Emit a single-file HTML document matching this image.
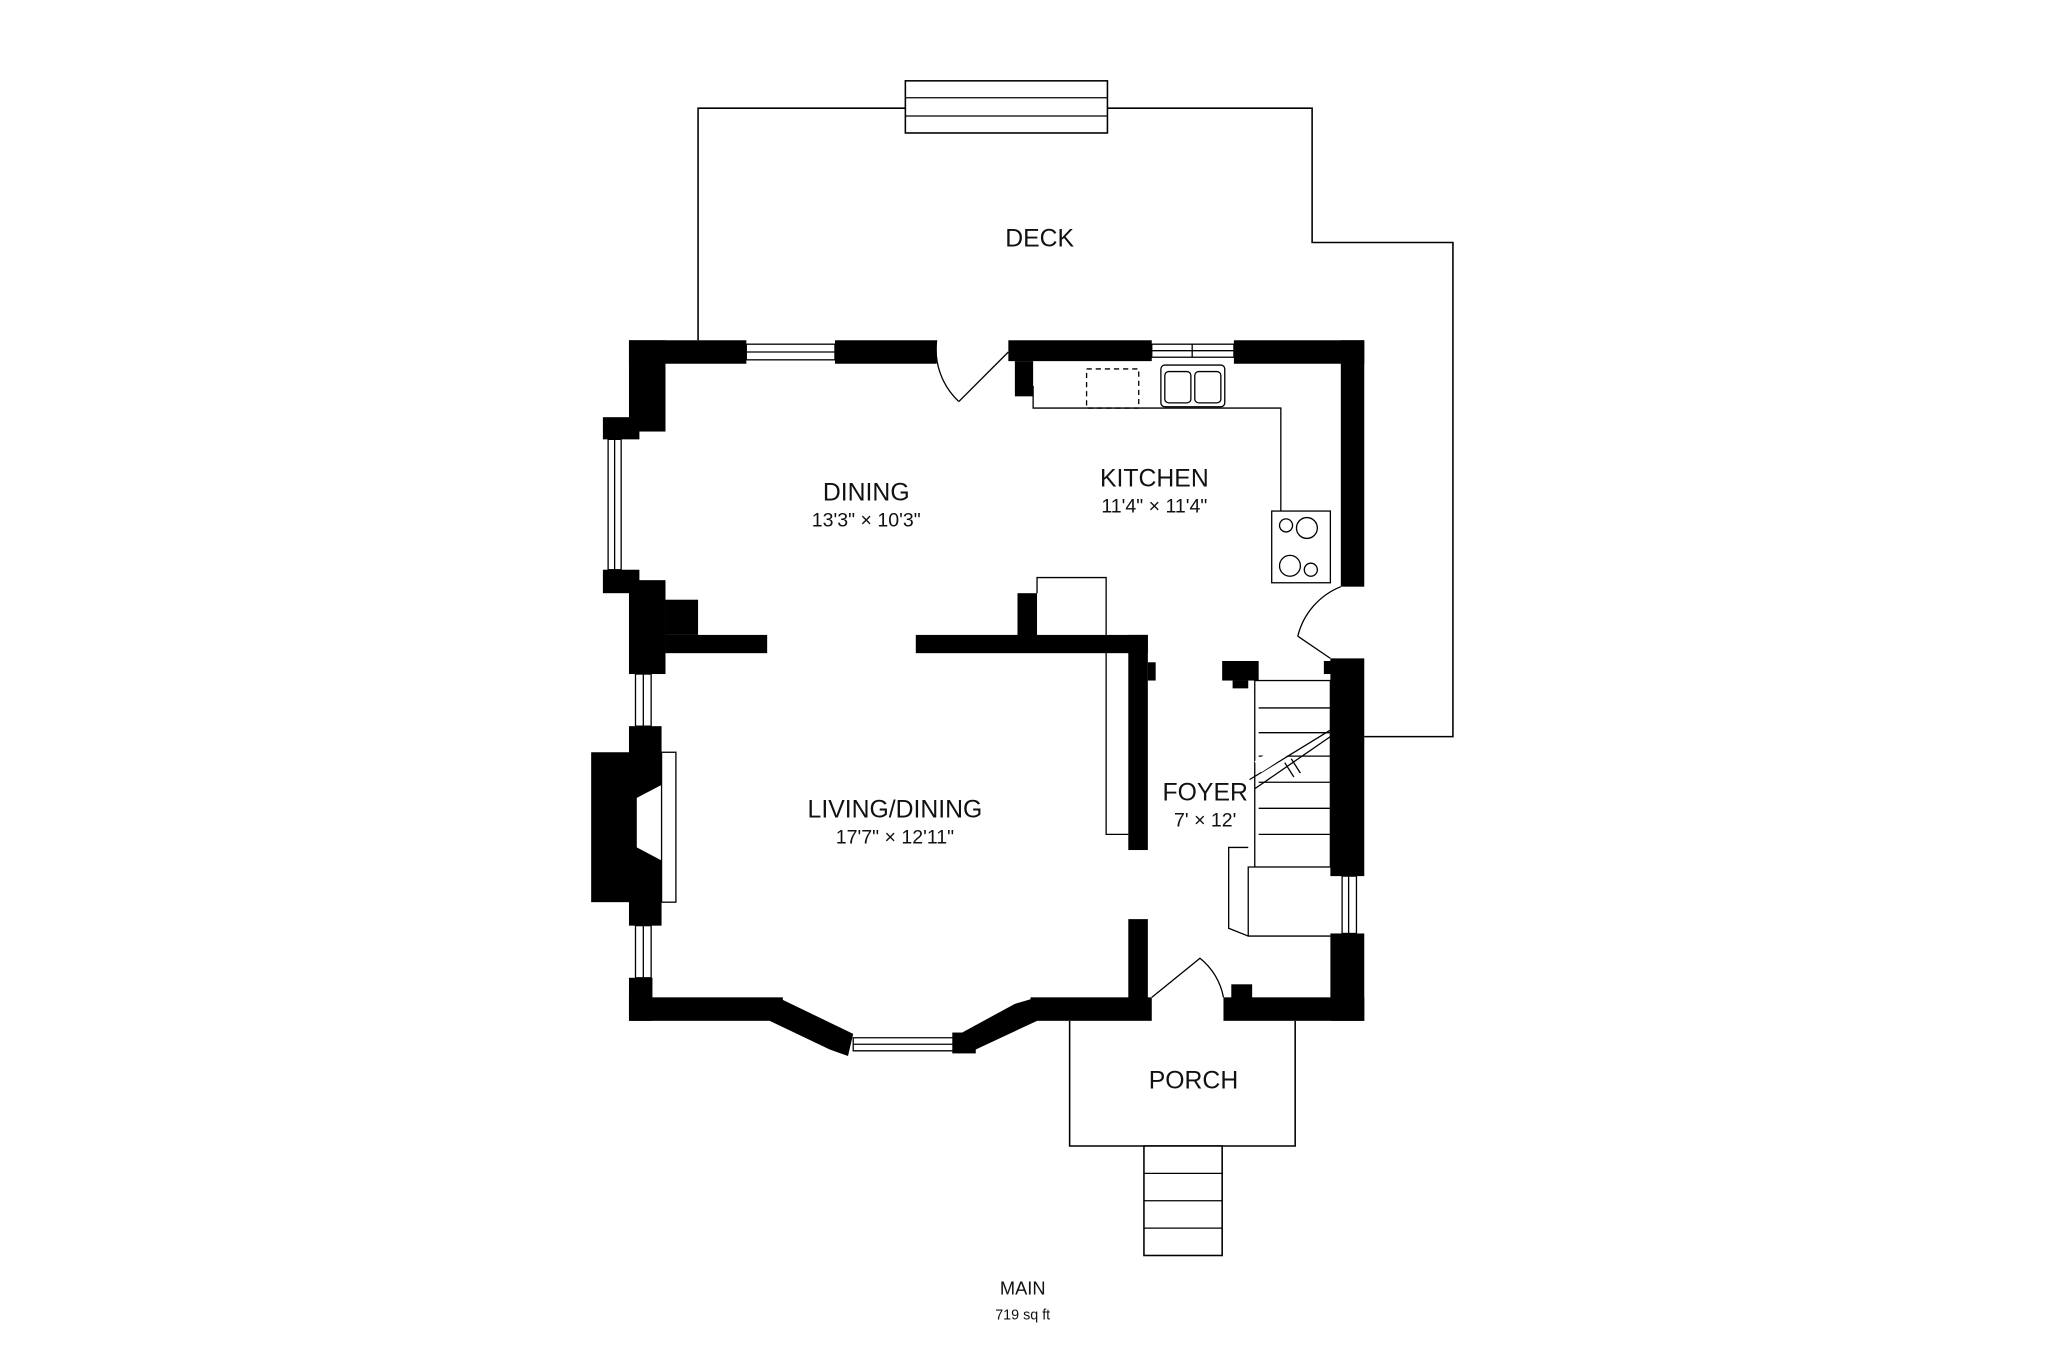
<!DOCTYPE html>
<html><head><meta charset="utf-8"><style>
html,body{margin:0;padding:0;background:#fff;}
svg{display:block;}
text{font-family:"Liberation Sans",sans-serif;fill:#111;}
</style></head><body>
<svg width="2048" height="1365" viewBox="0 0 1570 1047" xmlns="http://www.w3.org/2000/svg">
<rect width="1570" height="1047" fill="#fff"/>
<!-- deck -->
<polyline points="535,261 535,83 1006,83 1006,186 1114,186 1114,565 1046,565" fill="none" stroke="#000" stroke-width="1.2"/>
<rect x="694" y="62" width="155" height="40" fill="#fff" stroke="#000" stroke-width="1.2"/>
<line x1="694" y1="75" x2="849" y2="75" stroke="#000"/><line x1="694" y1="89" x2="849" y2="89" stroke="#000"/>
<!-- porch -->
<polyline points="820,783 820,879 993,879 993,783" fill="none" stroke="#000" stroke-width="1.2"/>
<rect x="877" y="879" width="60" height="84" fill="#fff" stroke="#000" stroke-width="1.2"/>
<line x1="877" y1="900" x2="937" y2="900" stroke="#000"/><line x1="877" y1="921" x2="937" y2="921" stroke="#000"/><line x1="877" y1="942" x2="937" y2="942" stroke="#000"/>
<g fill="#000">
<rect x="482" y="261" width="90" height="18"/>
<rect x="640" y="261" width="78" height="18"/>
<rect x="773" y="261" width="110" height="16"/>
<rect x="946" y="261" width="100" height="18"/>
<rect x="778" y="277" width="14" height="27"/>
<rect x="1028" y="261" width="18" height="189"/>
<rect x="1020" y="505" width="26" height="167"/>
<rect x="1020" y="716" width="26" height="67"/>
<rect x="938" y="765" width="108" height="18"/>
<rect x="944" y="755" width="16" height="12"/>
<rect x="790" y="765" width="93" height="18"/>
<polygon points="778,770 795,765 795,783 748,805 735,808 732,795"/>
<rect x="730" y="792" width="18" height="16"/>
<polygon points="598,766 654,793 650,810 636,805 590,783"/>
<rect x="482" y="765" width="118" height="18"/>
<rect x="482" y="750" width="18" height="33"/>
<rect x="482" y="261" width="28" height="70"/>
<rect x="462" y="320" width="28" height="17"/>
<rect x="462" y="437" width="28" height="18"/>
<rect x="482" y="445" width="28" height="72"/>
<rect x="510" y="460" width="25" height="27"/>
<rect x="510" y="487" width="78" height="14"/>
<rect x="482" y="557" width="25" height="153"/>
<rect x="453" y="577" width="54" height="115"/>
<rect x="702" y="487" width="178" height="14"/>
<rect x="865" y="487" width="15" height="165"/>
<rect x="880" y="508" width="6" height="14"/>
<rect x="780" y="455" width="15" height="35"/>
<rect x="865" y="705" width="15" height="63"/>
<rect x="937" y="507" width="28" height="15"/>
<rect x="945" y="522" width="12" height="6"/>
<rect x="1015" y="507" width="8" height="10"/>
</g>
<polygon points="507,602 488,612 488,650 507,660" fill="#fff"/>
<g fill="none" stroke="#000" stroke-width="1">
<rect x="507" y="577" width="11" height="115"/>
<rect x="572" y="264" width="68" height="12"/><line x1="572" y1="270" x2="640" y2="270"/>
<rect x="883" y="264" width="63" height="10"/><line x1="883" y1="269" x2="946" y2="269"/><line x1="914" y1="264" x2="914" y2="274"/>
<rect x="466" y="337" width="10" height="100"/><line x1="471" y1="337" x2="471" y2="437"/>
<rect x="487" y="517" width="12" height="40"/><line x1="493" y1="517" x2="493" y2="557"/>
<rect x="487" y="710" width="12" height="40"/><line x1="493" y1="710" x2="493" y2="750"/>
<rect x="1029" y="672" width="11" height="44"/><line x1="1034" y1="672" x2="1034" y2="716"/>
<polygon points="654,796 731,796 731,806 654,806"/><line x1="654" y1="801" x2="731" y2="801"/>
<path d="M718,261 A55,55 0 0 0 735,308" /><line x1="735" y1="308" x2="773" y2="270"/>
<path d="M1028,450 A55,55 0 0 0 995,488"/><line x1="995" y1="488" x2="1020" y2="505"/>
<path d="M883,765 L920,735 A50,50 0 0 1 938,765"/>
<polyline points="792,296 792,313 982,313 982,392"/>
<rect x="833" y="283" width="40" height="30" stroke-dasharray="4,3"/>
<rect x="890" y="280" width="49" height="32" rx="3"/>
<rect x="893" y="285" width="20" height="24" rx="3"/><rect x="916" y="285" width="20" height="24" rx="3"/>
<rect x="975" y="392" width="45" height="55"/>
<circle cx="986" cy="403" r="5"/><circle cx="1002" cy="405" r="8"/><circle cx="989" cy="434" r="8"/><circle cx="1005" cy="437" r="5"/>
<polyline points="795,455 795,443 848,443 848,640 865,640"/>
<rect x="962" y="522" width="58" height="143"/>
<line x1="965" y1="543" x2="1020" y2="543"/><line x1="965" y1="562" x2="1020" y2="562"/><line x1="965" y1="580" x2="1020" y2="580"/>
<line x1="965" y1="600" x2="1020" y2="600"/><line x1="965" y1="620" x2="1020" y2="620"/><line x1="965" y1="640" x2="1020" y2="640"/>
<line x1="962" y1="605" x2="1020" y2="565"/><line x1="958" y1="598" x2="1020" y2="560"/>
<polyline points="962,665 957,665 957,718 1020,718"/>
<polyline points="957,650 942,650 942,712 957,718"/>
</g>
<rect x="962" y="575" width="30" height="10" fill="#fff" transform="rotate(-33 977 580)"/>
<g fill="none" stroke="#000"><line x1="985" y1="585" x2="992" y2="596"/><line x1="990" y1="582" x2="997" y2="593"/></g>
<g text-anchor="middle">
<text x="797" y="189" font-size="19">DECK</text>
<text x="664" y="384" font-size="19">DINING</text>
<text x="664" y="404" font-size="15">13'3" × 10'3"</text>
<text x="885" y="373" font-size="19">KITCHEN</text>
<text x="885" y="393" font-size="15">11'4" × 11'4"</text>
<text x="686" y="627" font-size="19">LIVING/DINING</text>
<text x="686" y="647" font-size="15">17'7" × 12'11"</text>
<text x="924" y="614" font-size="19">FOYER</text>
<text x="924" y="634" font-size="15">7' × 12'</text>
<text x="915" y="835" font-size="19">PORCH</text>
<text x="784" y="993" font-size="14">MAIN</text>
<text x="784" y="1012" font-size="11">719 sq ft</text>
</g>
</svg>
</body></html>
